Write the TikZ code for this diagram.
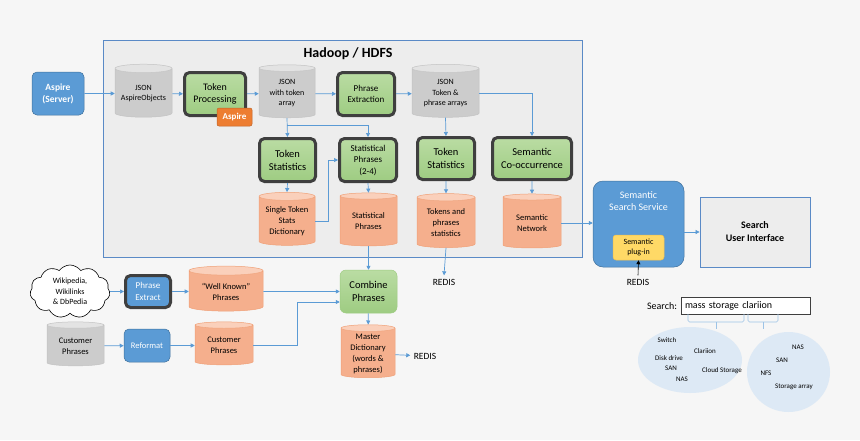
\documentclass[tikz,border=0pt]{standalone}
\usepackage{fontspec}
\setmainfont{Carlito}
\usetikzlibrary{shapes.geometric,shapes.symbols,arrows.meta,positioning}

\definecolor{bg}{HTML}{F6F6F6}
\definecolor{hdfsgray}{HTML}{EDEDED}
\definecolor{frameblue}{HTML}{5A8AC6}
\definecolor{linkblue}{HTML}{5B9BD5}
\definecolor{boxblue}{HTML}{5B9BD5}
\definecolor{boxblueline}{HTML}{41719C}
\definecolor{greentop}{HTML}{BADCA3}
\definecolor{greenbot}{HTML}{9ECC82}
\definecolor{darkline}{HTML}{3F3F3F}
\definecolor{salmon}{HTML}{F5AF8D}
\definecolor{salmonend}{HTML}{FAD0BB}
\definecolor{salmonline}{HTML}{F0A077}
\definecolor{cylgray}{HTML}{CCCCCC}
\definecolor{cylgrayend}{HTML}{E3E3E3}
\definecolor{cylgrayline}{HTML}{C3C3C3}
\definecolor{tagorange}{HTML}{ED7D31}
\definecolor{plugyellow}{HTML}{FFD966}
\definecolor{plugline}{HTML}{F2C14E}
\definecolor{cloudfill}{HTML}{DDE9F5}
\definecolor{bracecol}{HTML}{9DC3E6}

\tikzset{
  proc/.style={draw=darkline, line width=3pt, rounded corners=5pt, top color=greentop, bottom color=greenbot,
    align=center, inner sep=1pt, font=\fontsize{10}{12}\selectfont},
  combinebox/.style={draw=greenbot, line width=0.5pt, rounded corners=6pt, top color=greentop, bottom color=greenbot,
    align=center, inner sep=1pt, font=\fontsize{10.5}{13}\selectfont},
  store/.style={cylinder, shape border rotate=90, aspect=0.18, cylinder uses custom fill, line width=0.5pt,
    align=center, inner sep=1pt, font=\fontsize{8}{10.5}\selectfont},
  graystore/.style={store, draw=cylgrayline, cylinder body fill=cylgray, cylinder end fill=cylgrayend},
  orangestore/.style={store, draw=salmonline, cylinder body fill=salmon, cylinder end fill=salmonend,
    font=\fontsize{8.5}{11}\selectfont},
  bluebox/.style={draw=boxblueline, line width=0.5pt, fill=boxblue, rounded corners=5pt, text=white,
    align=center, inner sep=1pt, font=\bfseries\fontsize{9.5}{12}\selectfont},
  blueproc/.style={bluebox, draw=darkline, line width=3pt, font=\fontsize{9}{11.5}\selectfont},
  tag/.style={draw=tagorange!80!black, line width=0.5pt, fill=tagorange, rounded corners=2pt, text=white,
    inner sep=1pt, font=\bfseries\fontsize{9}{10}\selectfont},
  plug/.style={draw=plugline, line width=0.5pt, fill=plugyellow, rounded corners=3pt,
    align=center, inner sep=1pt, font=\fontsize{8}{10.5}\selectfont},
  link/.style={draw=linkblue, line width=0.7pt, -{Triangle[length=4pt,width=4pt]}},
  plain/.style={font=\fontsize{9.5}{11}\selectfont},
  word/.style={font=\fontsize{7}{8}\selectfont, inner sep=0pt},
  cluster/.style={ellipse, fill=cloudfill, inner sep=0pt}
}

\begin{document}
\begin{tikzpicture}[x=1pt,y=-1pt]
\fill[bg] (0,0) rectangle (860,440);
\useasboundingbox (0,0) rectangle (860,440);

% Hadoop frame
\node[draw=frameblue, line width=0.8pt, fill=hdfsgray, minimum width=479pt, minimum height=217pt] (hdfs) at (342.5,148.5) {};
\node[font=\bfseries\fontsize{14}{16}\selectfont] (hdfstitle) at (348,54) {Hadoop / HDFS};

% top row
\node[bluebox, minimum width=52pt, minimum height=43pt] (aspire) at (58,93.5) {Aspire\\(Server)};
\node[graystore, minimum width=57pt, minimum height=53pt] (jsonobj) at (143.5,93.5) {JSON\\AspireObjects};
\node[proc, minimum width=61pt, minimum height=43pt] (tokproc) at (215,94) {Token\\Processing};
\node[tag, minimum width=35pt, minimum height=18pt] (aspiretag) at (234.5,117) {Aspire};
\node[graystore, minimum width=56pt, minimum height=53pt] (jsontok) at (287,93.5) {JSON\\with token\\array};
\node[proc, minimum width=57pt, minimum height=43pt, font=\fontsize{9}{11.5}\selectfont] (phrext) at (366,94) {Phrase\\Extraction};
\node[graystore, minimum width=67pt, minimum height=53pt] (jsonphr) at (445.5,93.5) {JSON\\Token \&\\phrase arrays};

% second row
\node[proc, minimum width=56pt, minimum height=43pt, font=\fontsize{10.5}{13}\selectfont] (tokstat1) at (287.5,160) {Token\\Statistics};
\node[proc, minimum width=57pt, minimum height=43pt, font=\fontsize{9}{11.5}\selectfont] (statphr) at (368,160) {Statistical\\Phrases\\(2-4)};
\node[proc, minimum width=57pt, minimum height=42pt, font=\fontsize{10.5}{13}\selectfont] (tokstat2) at (446,158.5) {Token\\Statistics};
\node[proc, minimum width=79pt, minimum height=42pt, font=\fontsize{10.5}{13}\selectfont] (semco) at (532,158.5) {Semantic\\Co-occurrence};

% stores
\node[orangestore, minimum width=56pt, minimum height=53pt] (singletok) at (287,221.5) {Single Token\\Stats\\Dictionary};
\node[orangestore, minimum width=57pt, minimum height=53pt] (statphrdb) at (368.5,221.5) {Statistical\\Phrases};
\node[orangestore, minimum width=58pt, minimum height=54pt] (tokphrdb) at (446,223) {Tokens and\\phrases\\statistics};
\node[orangestore, minimum width=58pt, minimum height=54pt] (semnet) at (532,223) {Semantic\\Network};

% search service
\node[bluebox, rounded corners=10pt, minimum width=91pt, minimum height=86pt] (sss) at (638.5,224) {};
\node[text=white, align=center, font=\fontsize{10}{12.5}\selectfont] (ssslabel) at (638.5,201) {Semantic\\Search Service};
\node[plug, minimum width=51pt, minimum height=25pt] (plugin) at (638.5,247.5) {Semantic\\plug-in};
\node[draw=frameblue, line width=0.8pt, fill=hdfsgray, minimum width=110pt, minimum height=70pt, align=center,
  font=\bfseries\fontsize{10}{13}\selectfont] (sui) at (755,232) {Search\\User Interface};
\node[plain] (redisA) at (444,282) {REDIS};
\node[plain] (redisB) at (638,282) {REDIS};

% lower part
\node[cloud, cloud puffs=11, cloud puff arc=110, aspect=1.6, draw=black, fill=white, line width=0.6pt, inner sep=0pt,
  minimum width=80pt, minimum height=53pt, align=center, font=\fontsize{8}{10.5}\selectfont] (wiki) at (70,291.5) {Wikipedia,\\Wikilinks\\\& DbPedia};
\node[blueproc, minimum width=45pt, minimum height=32pt] (phrextract) at (148,291.5) {Phrase\\Extract};
\node[orangestore, minimum width=74pt, minimum height=45pt] (wellknown) at (226,291.5) {``Well Known''\\Phrases};
\node[combinebox, minimum width=57pt, minimum height=43pt] (combine) at (368.5,291.5) {Combine\\Phrases};
\node[graystore, minimum width=57pt, minimum height=44pt, font=\fontsize{8.5}{11}\selectfont] (custraw) at (75.5,346) {Customer\\Phrases};
\node[bluebox, font=\fontsize{8.5}{10}\selectfont, minimum width=46pt, minimum height=33pt] (reformat) at (147,345.5) {Reformat};
\node[orangestore, minimum width=58pt, minimum height=43pt] (custphr) at (224,345.5) {Customer\\Phrases};
\node[orangestore, minimum width=54pt, minimum height=53pt] (master) at (368,353.5) {Master\\Dictionary\\(words \&\\phrases)};
\node[plain] (redisC) at (425,356) {REDIS};

% search example
\node[plain, font=\fontsize{10}{12}\selectfont] (searchlbl) at (662,306) {Search:};
\node[draw=darkline, line width=0.8pt, fill=white, minimum width=129pt, minimum height=17pt, inner sep=0pt,
  text width=121pt, align=left, font=\fontsize{10}{12}\selectfont] (query) at (745.5,305.5) {mass storage clariion};
\node[cluster, minimum width=104pt, minimum height=66pt] (clusterA) at (690,360) {};
\node[cluster, minimum width=83pt, minimum height=80pt] (clusterB) at (788.5,372) {};
\draw[bracecol, line width=0.6pt, rounded corners=1.5pt] (688,314) -- (688,322) -- (744,322) -- (744,314);
\draw[bracecol, line width=0.6pt] (716,322) -- (716,329);
\draw[bracecol, line width=0.6pt, rounded corners=1.5pt] (748,314) -- (748,322) -- (778,322) -- (778,314);
\draw[bracecol, line width=0.6pt] (763,322) -- (763,329);
\node[word] (wA1) at (667,340) {Switch};
\node[word] (wA2) at (705,351) {Clariion};
\node[word] (wA3) at (669,358) {Disk drive};
\node[word] (wA4) at (671,368) {SAN};
\node[word] (wA5) at (722,371) {Cloud Storage};
\node[word] (wA6) at (682,379) {NAS};
\node[word] (wB1) at (798,347) {NAS};
\node[word] (wB2) at (782,360) {SAN};
\node[word] (wB3) at (766,373) {NFS};
\node[word] (wB4) at (794,387) {Storage array};

% connectors
\draw[link] (aspire) -- (jsonobj);
\draw[link] (jsonobj) -- (tokproc);
\draw[link] (tokproc) -- (jsontok);
\draw[link] (jsontok) -- (phrext);
\draw[link] (phrext) -- (jsonphr);
\draw[link] (jsontok.south) -- (tokstat1.north);
\draw[link] (jsontok.south) ++(0,7) -| (statphr.north);
\draw[link] (tokstat1.south) -- (singletok.north);
\draw[link] (singletok.east) -- ++(13,0) |- (statphr.west);
\draw[link] (statphr.south) -- (statphrdb.north);
\draw[link] (statphrdb.south) -- (combine.north);
\draw[link] (jsonphr.south) -- (tokstat2.north);
\draw[link] (jsonphr.east) -| (semco.north);
\draw[link] (tokstat2.south) -- (tokphrdb.north);
\draw[link] (semco.south) -- (semnet.north);
\draw[link] (tokphrdb.south) -- (redisA.north);
\draw[link] (semnet.east) -- (semnet.east -| sss.west);
\draw[link] (sss.east |- sui.west) -- (sui.west);
\draw[black, line width=0.6pt, -{Triangle[length=4pt,width=4pt]}] (redisB.north) -- (plugin.south);
\draw[link] (wiki) -- (phrextract);
\draw[link] (phrextract) -- (wellknown);
\draw[link] (wellknown) -- (combine);
\draw[link] (custraw) -- (reformat);
\draw[link] (reformat) -- (custphr);
\draw[link] (custphr.east) -- ++(44,0) |- ([yshift=-10.5pt]combine.west);
\draw[link] (combine) -- (master);
\draw[link] (master) -- (redisC);
\end{tikzpicture}
\end{document}
